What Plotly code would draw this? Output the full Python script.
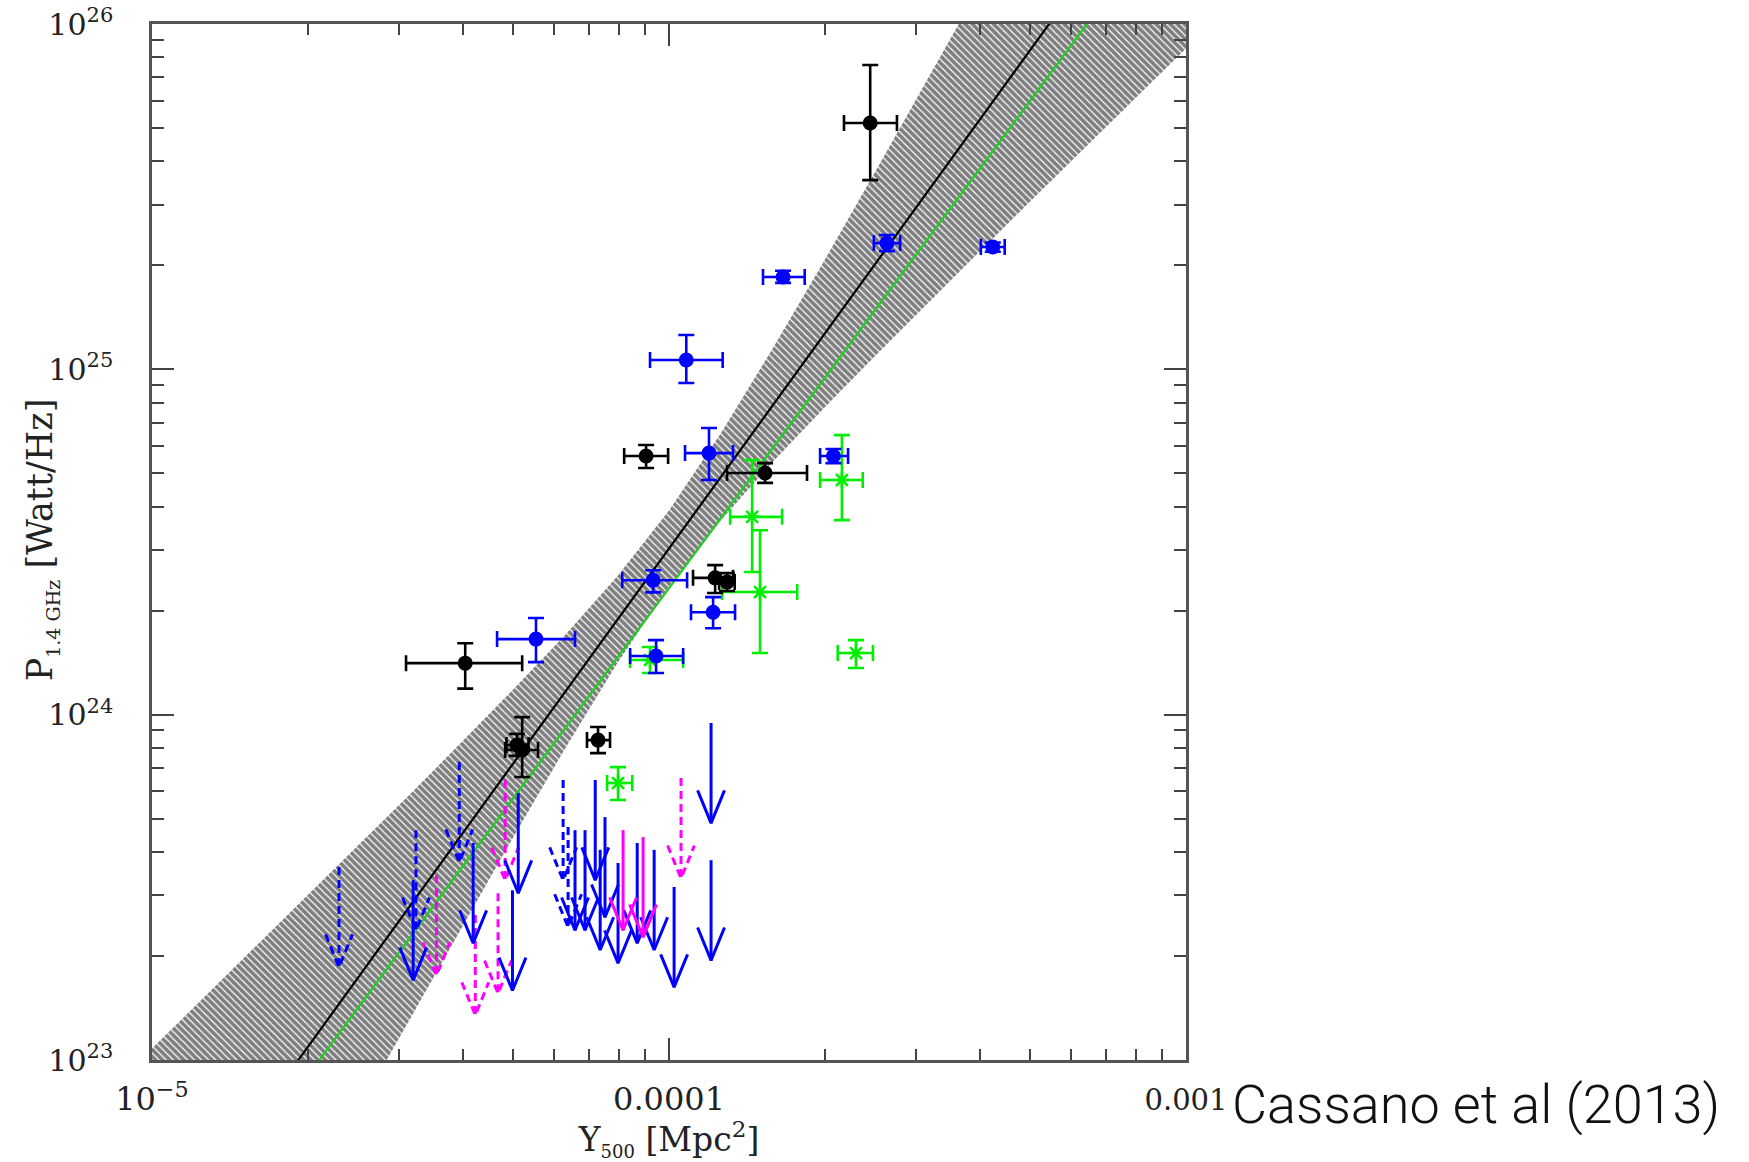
import numpy as np
import plotly.graph_objects as go

# ---------------- data ----------------
# Black: clusters with error bars
black_Y   = [2.45e-4, 9.03e-5, 1.534e-4, 1.228e-4, 1.295e-4, 4.035e-5, 5.20e-5, 5.08e-5, 7.29e-5]
black_Ylo = [2.18e-4, 8.19e-5, 1.295e-4, 1.113e-4, 1.25e-4, 3.10e-5, 4.82e-5, 4.85e-5, 6.94e-5]
black_Yhi = [2.76e-4, 9.96e-5, 1.849e-4, 1.33e-4, 1.34e-4, 5.20e-5, 5.58e-5, 5.35e-5, 7.69e-5]
black_P   = [5.17e25, 5.61e24, 5.01e24, 2.49e24, 2.42e24, 1.41e24, 7.90e23, 8.17e23, 8.44e23]
black_Plo = [3.53e25, 5.18e24, 4.69e24, 2.25e24, 2.28e24, 1.19e24, 6.6e23, 7.6e23, 7.74e23]
black_Phi = [7.61e25, 6.04e24, 5.35e24, 2.71e24, 2.57e24, 1.61e24, 9.84e23, 8.8e23, 9.21e23]

# Blue: clusters with error bars
blue_Y   = [2.64e-4, 4.23e-4, 1.662e-4, 1.08e-4, 1.195e-4, 2.08e-4, 9.32e-5, 1.217e-4, 5.53e-5, 9.44e-5]
blue_Ylo = [2.49e-4, 4.01e-4, 1.52e-4, 9.19e-5, 1.074e-4, 1.96e-4, 8.12e-5, 1.103e-4, 4.65e-5, 8.41e-5]
blue_Yhi = [2.80e-4, 4.46e-4, 1.83e-4, 1.27e-4, 1.33e-4, 2.22e-4, 1.084e-4, 1.342e-4, 6.58e-5, 1.065e-4]
blue_P   = [2.32e25, 2.26e25, 1.85e25, 1.064e25, 5.72e24, 5.61e24, 2.45e24, 1.98e24, 1.655e24, 1.478e24]
blue_Plo = [2.20e25, 2.19e25, 1.78e25, 9.13e24, 4.78e24, 5.35e24, 2.26e24, 1.78e24, 1.42e24, 1.32e24]
blue_Phi = [2.45e25, 2.33e25, 1.93e25, 1.257e25, 6.76e24, 5.88e24, 2.62e24, 2.19e24, 1.905e24, 1.644e24]

# Green: clusters with error bars
green_Y   = [2.16e-4, 1.448e-4, 1.50e-4, 2.30e-4, 9.19e-5, 7.97e-5]
green_Ylo = [1.96e-4, 1.313e-4, 1.267e-4, 2.12e-4, 8.41e-5, 7.59e-5]
green_Yhi = [2.37e-4, 1.655e-4, 1.77e-4, 2.48e-4, 1.065e-4, 8.49e-5]
green_P   = [4.78e24, 3.74e24, 2.265e24, 1.508e24, 1.44e24, 6.34e23]
green_Plo = [3.66e24, 2.59e24, 1.508e24, 1.365e24, 1.32e24, 5.66e23]
green_Phi = [6.45e24, 5.46e24, 3.42e24, 1.644e24, 1.57e24, 7.05e23]

# Upper limits
ul_blue_dashed_Y = [2.30e-5, 3.24e-5, 3.93e-5, 6.24e-5, 6.38e-5]
ul_blue_dashed_P = [3.62e23, 4.63e23, 7.29e23, 6.47e23, 4.73e23]
ul_blue_solid_Y = [3.20e-5, 4.18e-5, 5.11e-5, 4.98e-5, 6.58e-5, 6.88e-5, 7.20e-5, 7.36e-5,
                   7.52e-5, 7.97e-5, 8.68e-5, 9.36e-5, 1.023e-4, 1.206e-4, 1.206e-4]
ul_blue_solid_P = [3.32e23, 4.25e23, 5.93e23, 3.10e23, 4.63e23, 4.63e23, 6.47e23, 4.06e23,
                   5.05e23, 3.72e23, 4.25e23, 4.06e23, 3.17e23, 3.79e23, 9.46e23]
ul_mag_dashed_Y = [3.55e-5, 4.22e-5, 4.67e-5, 4.82e-5, 1.055e-4]
ul_mag_dashed_P = [3.43e23, 2.63e23, 3.04e23, 6.47e23, 6.55e23]
ul_mag_solid_Y = [8.15e-5, 8.91e-5]
ul_mag_solid_P = [4.63e23, 4.42e23]

# Best-fit lines (log10 values at the ends of the x range)
fit_logY = [-5.0, -3.0]
fit_black_logP = [22.415, 26.547]
fit_green_logP = [22.346, 26.387]

# Confidence band of the fit (log10 values)
band_logY = [-5.0, -4.9, -4.8, -4.7, -4.6, -4.5, -4.4, -4.3, -4.2, -4.1, -4.0,
             -3.9, -3.8, -3.7, -3.6, -3.5, -3.4, -3.3, -3.2, -3.1, -3.0]
band_logP_hi = [23.033, 23.180, 23.328, 23.475, 23.623, 23.771, 23.922, 24.075, 24.232, 24.401, 24.591,
                24.814, 25.059, 25.314, 25.575, 25.838, 26.102, 26.368, 26.633, 26.899, 27.165]
band_logP_lo = [21.797, 22.064, 22.330, 22.595, 22.861, 23.125, 23.388, 23.649, 23.904, 24.149, 24.371,
                24.562, 24.731, 24.888, 25.041, 25.192, 25.340, 25.488, 25.635, 25.783, 25.929]

x_tickvals = [1e-5, 1e-4, 1e-3]
x_ticktext = ["10<sup>\u22125</sup>", "0.0001", '<span style="font-size:29px">0.001</span>']
y_tickvals = [1e23, 1e24, 1e25, 1e26]
y_ticktext = ["10<sup>23</sup>", "10<sup>24</sup>", "10<sup>25</sup>", "10<sup>26</sup>"]
x_minor = [k * 10.0 ** e for e in (-5, -4) for k in range(2, 10)]
y_minor = [k * 10.0 ** e for e in (23, 24, 25) for k in range(2, 10)]

x_title = 'Y<sub><span style="font-size:18px">500</span></sub> [Mpc<sup>2</sup>]'
y_title = 'P<sub><span style="font-size:19px">1.4 GHz</span></sub> [Watt/Hz]'
credit = "Cassano et al (2013)"

# ---------------- style ----------------
ARROW_LEN = 0.29   # decades
HEAD_W = 0.026     # decades in x
HEAD_H = 0.095     # decades in y
SERIF = "DejaVu Serif"

fig = go.Figure()

# band
bx = [10.0 ** v for v in band_logY] + [10.0 ** v for v in band_logY[::-1]]
by = [10.0 ** v for v in band_logP_hi] + [10.0 ** v for v in band_logP_lo[::-1]]
fig.add_trace(go.Scatter(
    x=bx, y=by, mode="lines", fill="toself",
    line=dict(width=0, color="rgba(0,0,0,0)"),
    fillcolor="white",
    fillpattern=dict(shape="\\", size=5, solidity=0.75, fgcolor="#000000", bgcolor="white"),
    hoverinfo="skip", showlegend=False))

# fit lines
fig.add_trace(go.Scatter(x=[10.0 ** v for v in fit_logY], y=[10.0 ** v for v in fit_black_logP],
                         mode="lines", line=dict(color="#000000", width=2.2), showlegend=False))
fig.add_trace(go.Scatter(x=[10.0 ** v for v in fit_logY], y=[10.0 ** v for v in fit_green_logP],
                         mode="lines", line=dict(color="#22cc22", width=2.2), showlegend=False))


def arrows(xs, ys):
    X, Y = [], []
    for x, y in zip(xs, ys):
        tip = y / 10.0 ** ARROW_LEN
        X += [x, x, None, x / 10.0 ** HEAD_W, x, x * 10.0 ** HEAD_W, None]
        Y += [y, tip, None, tip * 10.0 ** HEAD_H, tip, tip * 10.0 ** HEAD_H, None]
    return X, Y


for xs, ys, col, dash in [
    (ul_blue_dashed_Y, ul_blue_dashed_P, "#0000ff", "8px,5px"),
    (ul_mag_dashed_Y, ul_mag_dashed_P, "#ff00ff", "8px,5px"),
    (ul_blue_solid_Y, ul_blue_solid_P, "#0000ff", "solid"),
    (ul_mag_solid_Y, ul_mag_solid_P, "#ff00ff", "solid"),
]:
    X, Y = arrows(xs, ys)
    fig.add_trace(go.Scatter(x=X, y=Y, mode="lines",
                             line=dict(color=col, width=3, dash=dash),
                             showlegend=False, hoverinfo="skip"))


def pts(xv, xlo, xhi, yv, ylo, yhi, col, symbol, size):
    xv, xlo, xhi = np.array(xv, float), np.array(xlo, float), np.array(xhi, float)
    yv, ylo, yhi = np.array(yv, float), np.array(ylo, float), np.array(yhi, float)
    marker = dict(color=col, size=size, symbol=symbol)
    if symbol.endswith("open"):
        marker["line"] = dict(color=col, width=2.5)
    return go.Scatter(
        x=xv, y=yv, mode="markers", marker=marker,
        error_x=dict(type="data", symmetric=False, array=xhi - xv, arrayminus=xv - xlo,
                     color=col, thickness=2.6, width=8),
        error_y=dict(type="data", symmetric=False, array=yhi - yv, arrayminus=yv - ylo,
                     color=col, thickness=2.6, width=8),
        showlegend=False)


fig.add_trace(pts(green_Y, green_Ylo, green_Yhi, green_P, green_Plo, green_Phi,
                  "#00ee00", "asterisk-open", 14))
fig.add_trace(pts(blue_Y, blue_Ylo, blue_Yhi, blue_P, blue_Plo, blue_Phi,
                  "#0000ff", "circle", 15))
fig.add_trace(pts(black_Y, black_Ylo, black_Yhi, black_P, black_Plo, black_Phi,
                  "#000000", "circle", 15))

axis_common = dict(
    type="log", showgrid=False, zeroline=False,
    showline=True, linecolor="#555555", linewidth=2.5, mirror="allticks",
    ticks="inside", ticklen=22, tickwidth=2, tickcolor="#444444",
)

fig.update_xaxes(
    **axis_common, range=[-5, -3],
    tickfont=dict(family=SERIF, size=32, color="#222222"),
    tickmode="array", tickvals=x_tickvals, ticktext=x_ticktext,
    minor=dict(ticks="inside", ticklen=11, tickwidth=2, tickcolor="#444444",
               tickmode="array", tickvals=x_minor),
    ticklabelstandoff=9,
    title=dict(text=x_title, font=dict(family=SERIF, size=33, color="#222222"), standoff=2),
)
fig.update_yaxes(
    **axis_common, range=[23, 26],
    tickfont=dict(family=SERIF, size=30, color="#222222"),
    tickmode="array", tickvals=y_tickvals, ticktext=y_ticktext,
    minor=dict(ticks="inside", ticklen=12, tickwidth=2, tickcolor="#444444",
               tickmode="array", tickvals=y_minor),
    ticklabelstandoff=30,
)

# y-axis title (placed closer than the tick-label box allows)
fig.add_annotation(
    text=y_title, textangle=-90, xref="paper", yref="paper",
    x=-0.106, y=0.502, xanchor="center", yanchor="middle", showarrow=False,
    font=dict(family=SERIF, size=35, color="#222222"),
)

fig.add_annotation(
    text=credit, xref="paper", yref="paper",
    x=1.0425, y=-0.0425, xanchor="left", yanchor="middle", showarrow=False,
    font=dict(family="Roboto", size=54, color="#111111", weight=300),
)

fig.update_layout(
    width=1749, height=1162,
    margin=dict(l=152, r=563, t=24, b=102, autoexpand=False),
    plot_bgcolor="white", paper_bgcolor="white",
    showlegend=False,
)

fig.write_html("out.html")
